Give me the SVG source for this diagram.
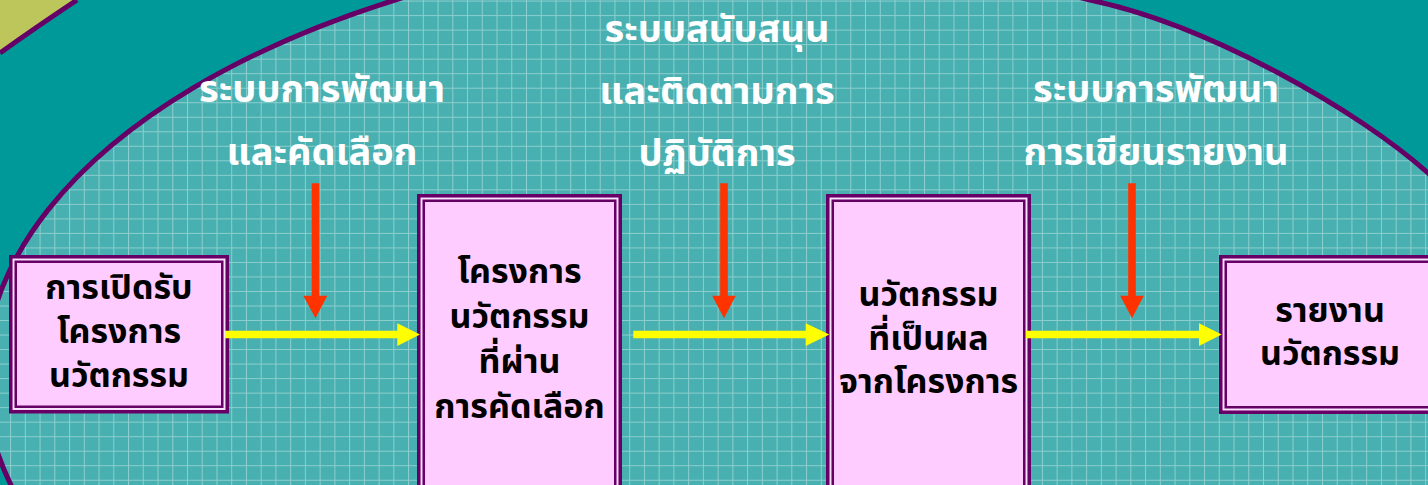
<svg xmlns="http://www.w3.org/2000/svg" width="1428" height="485" viewBox="0 0 1428 485">
<defs>
<style>
.bx{fill:#FFCCFF;stroke:#660066;stroke-width:3.5}
.bxi{fill:none;stroke:#660066;stroke-width:2.5}
.bxg{fill:none;stroke:#F4E4F8;stroke-width:1.5}
.t{font-family:"Noto Sans Thai","Noto Serif Thai","Loma","Garuda","Tlwg Typo","DejaVu Sans",sans-serif;font-weight:bold;text-anchor:middle}
.tb{font-size:34px;fill:#000000}
.tl{font-size:38px;fill:#FFFFFF}
.red{fill:#FF3300}
.yel{fill:#FFFF00}
</style>
<pattern id="grid" patternUnits="userSpaceOnUse" x="10.1" y="0.6" width="14.74" height="14.52">
<path d="M0,0.5 H14.74 M0.5,0 V14.52" stroke="#FFFFFF" stroke-opacity="0.38" stroke-width="1" fill="none"/>
</pattern>
<path id="fieldShape" d="M11,485 A850,440 0 0 1 395,0 C615,-69 870,-55 1090,0 C1210,25 1360,112 1428,173 L1520,260 L1520,560 L11,560 Z"/>
</defs>
<rect id="background" x="0" y="0" width="1428" height="485" fill="#009999"/>
<g id="corner">
<path d="M0,0 L77,0 Q35,28 0,53 Z" fill="#BDC65A"/>
<path d="M0,53 Q35,28 77,0" fill="none" stroke="#660066" stroke-width="5"/>
</g>
<g id="field">
<use href="#fieldShape" fill="#48B0B0"/>
<use href="#fieldShape" fill="url(#grid)"/>
<use href="#fieldShape" fill="none" stroke="#660066" stroke-width="5"/>
</g>
<g id="labels">
<g id="label1">
<text class="t tl" x="322" y="102">ระบบการพัฒนา</text>
<text class="t tl" x="322" y="165">และคัดเลือก</text>
</g>
<g id="label2">
<text class="t tl" x="717" y="42">ระบบสนับสนุน</text>
<text class="t tl" x="717" y="104">และติดตามการ</text>
<text class="t tl" x="717" y="166">ปฏิบัติการ</text>
</g>
<g id="label3">
<text class="t tl" x="1156" y="102">ระบบการพัฒนา</text>
<text class="t tl" x="1156" y="165">การเขียนรายงาน</text>
</g>
</g>
<g id="box1">
<rect class="bx" x="10.75" y="256.75" width="216.5" height="155"/>
<rect class="bxg" x="13.75" y="259.75" width="210.5" height="149"/>
<rect class="bxi" x="15.75" y="261.75" width="206.5" height="145"/>
<text class="t tb" x="119" y="299">การเปิดรับ</text>
<text class="t tb" x="119" y="343">โครงการ</text>
<text class="t tb" x="119" y="387">นวัตกรรม</text>
</g>
<g id="box2">
<rect class="bx" x="418.75" y="195.75" width="201.5" height="300"/>
<rect class="bxg" x="421.75" y="198.75" width="195.5" height="300"/>
<rect class="bxi" x="423.75" y="200.75" width="191.5" height="300"/>
<text class="t tb" x="519.5" y="283">โครงการ</text>
<text class="t tb" x="519.5" y="328">นวัตกรรม</text>
<text class="t tb" x="519.5" y="373">ที่ผ่าน</text>
<text class="t tb" x="519.5" y="418">การคัดเลือก</text>
</g>
<g id="box3">
<rect class="bx" x="827.75" y="195.75" width="201.5" height="300"/>
<rect class="bxg" x="830.75" y="198.75" width="195.5" height="300"/>
<rect class="bxi" x="832.75" y="200.75" width="191.5" height="300"/>
<text class="t tb" x="928.5" y="306">นวัตกรรม</text>
<text class="t tb" x="928.5" y="350">ที่เป็นผล</text>
<text class="t tb" x="928.5" y="393">จากโครงการ</text>
</g>
<g id="box4">
<rect class="bx" x="1220.75" y="256.75" width="218.5" height="155.5"/>
<rect class="bxg" x="1223.75" y="259.75" width="212.5" height="149.5"/>
<rect class="bxi" x="1225.75" y="261.75" width="208.5" height="145.5"/>
<text class="t tb" x="1330" y="322">รายงาน</text>
<text class="t tb" x="1330" y="365">นวัตกรรม</text>
</g>
<g id="connectors">
<path class="red" d="M311.7,183.3 H319.3 V295.7 H327.3 L315.5,318.3 L303.3,295.7 H311.7 Z"/>
<path class="red" d="M720.2,183.3 H727.8 V295.7 H735.8 L724,318.3 L712.2,295.7 H720.2 Z"/>
<path class="red" d="M1128.2,183.3 H1135.8 V295.7 H1143.8 L1132,318.3 L1120.2,295.7 H1128.2 Z"/>
<path class="yel" d="M225,330.7 H397.3 V323.3 L420,334.5 L397.3,346 V338.3 H225 Z"/>
<path class="yel" d="M633.3,330.7 H805.7 V323.3 L829.3,334.5 L805.7,346 V338.3 H633.3 Z"/>
<path class="yel" d="M1026,330.7 H1199 V323.3 L1221.7,334.5 L1199,346 V338.3 H1026 Z"/>
</g>
</svg>
